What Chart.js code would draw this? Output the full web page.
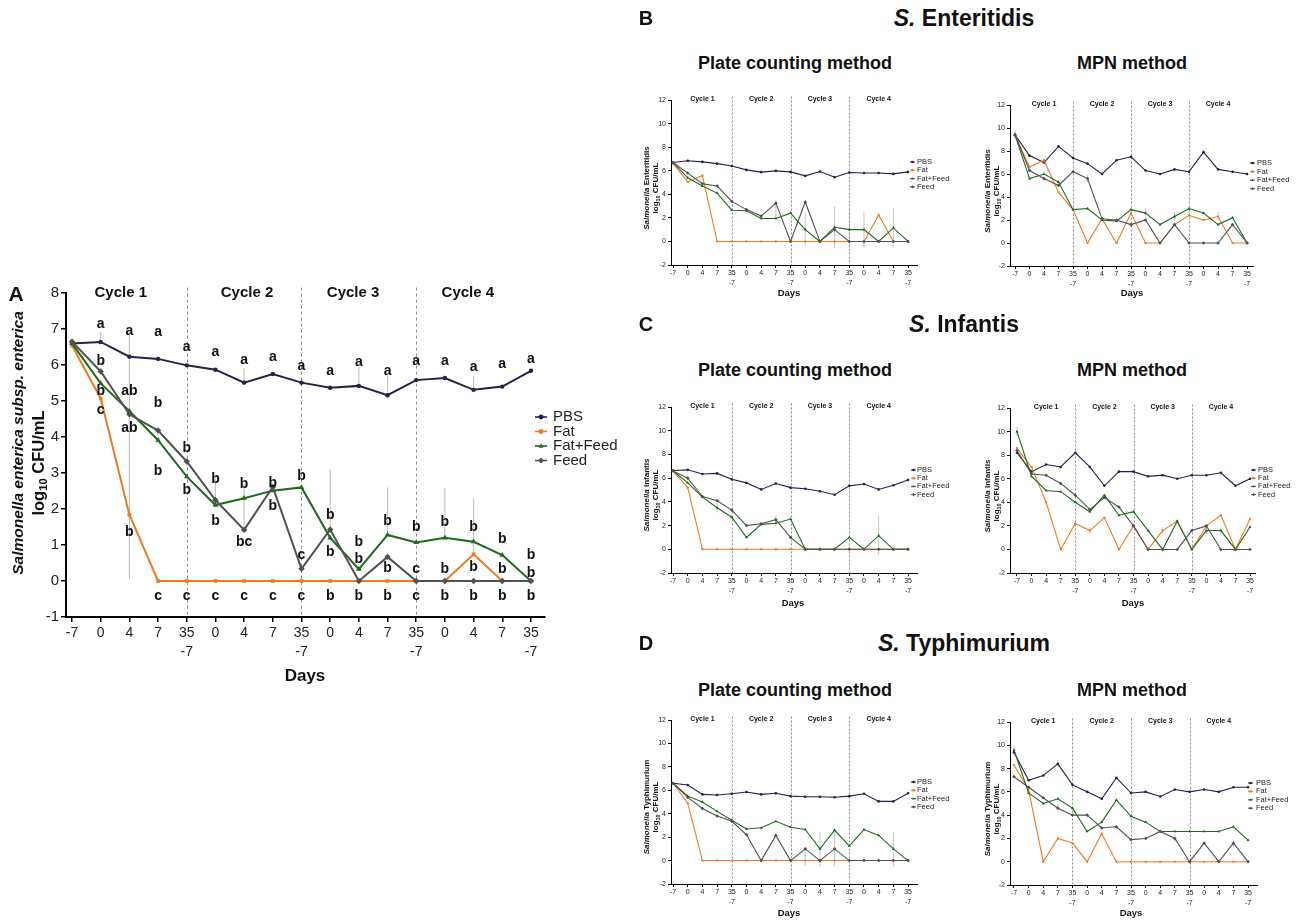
<!DOCTYPE html>
<html>
<head>
<meta charset="utf-8">
<script src="https://cdn.jsdelivr.net/npm/chart.js@4.4.1/dist/chart.umd.min.js"></script>
<style>
body { margin: 0; background: #fff; font-family: "Liberation Sans", Arial, sans-serif; }
#fig { position: relative; width: 1296px; height: 920px; overflow: hidden; }
.t { position: absolute; white-space: nowrap; color: #111; font-weight: bold; transform: translate(-50%, -50%); line-height: 1; }
.r { transform: translate(-50%, -50%) rotate(-90deg); }
sub { font-size: 0.68em; vertical-align: -0.3em; line-height: 0; }
canvas { position: absolute; }
</style>
</head>
<body>
<div id="fig"></div>
<script>
const dayLabels = ['-7', '0', '4', '7', ['35', '-7'], '0', '4', '7', ['35', '-7'], '0', '4', '7', ['35', '-7'], '0', '4', '7', ['35', '-7']];
const seriesNames = ['PBS', 'Fat', 'Fat+Feed', 'Feed'];
const seriesColors = ['#23224a', '#ef7a22', '#1c6b1f', '#515151'];
const pointShapes = ['circle', 'rect', 'triangle', 'rectRot'];
const cycleNames = ['Cycle 1', 'Cycle 2', 'Cycle 3', 'Cycle 4'];
const cycleBreaks = [4, 8, 12];

// Panel A - Salmonella enterica subsp. enterica
const aPBS = [6.6, 6.64, 6.23, 6.17, 5.99, 5.87, 5.51, 5.75, 5.51, 5.37, 5.42, 5.16, 5.58, 5.64, 5.31, 5.40, 5.84];
const aFat = [6.54, 5.07, 1.84, 0, 0, 0, 0, 0, 0, 0, 0, 0, 0, 0, 0.74, 0, 0];
const aFatFeed = [6.6, 5.49, 4.72, 3.91, 2.9, 2.11, 2.3, 2.51, 2.6, 1.2, 0.33, 1.28, 1.07, 1.2, 1.09, 0.72, 0];
const aFeed = [6.65, 5.82, 4.63, 4.18, 3.32, 2.25, 1.42, 2.61, 0.34, 1.43, 0, 0.67, 0, 0, 0, 0, 0];
const aErr = [[1, 6.64, 6.92], [2, 0.05, 6.9], [5, 2.25, 2.9], [6, 1.42, 2.7], [6, 5.51, 5.9], [9, 1.43, 3.1],
  [10, 5.42, 5.95], [11, 1.28, 2.6], [11, 5.16, 5.7], [13, 1.2, 2.58], [14, 0.74, 2.3], [14, 5.31, 5.7]];
const aLetters = [
  [1, 7.14, 'a'], [1, 6.12, 'b'], [1, 5.28, 'b'], [1, 4.74, 'c'],
  [2, 6.94, 'a'], [2, 5.28, 'ab'], [2, 4.24, 'ab'], [2, 1.37, 'b'],
  [3, 6.91, 'a'], [3, 4.93, 'b'], [3, 3.05, 'b'], [3, -0.42, 'c'],
  [4, 6.49, 'a'], [4, 3.7, 'b'], [4, 2.51, 'b'], [4, -0.42, 'c'],
  [5, 6.37, 'a'], [5, 2.84, 'b'], [5, 1.67, 'b'], [5, -0.42, 'c'],
  [6, 6.14, 'a'], [6, 2.69, 'b'], [6, 1.07, 'bc'], [6, -0.42, 'c'],
  [7, 6.23, 'a'], [7, 2.72, 'b'], [7, 2.07, 'b'], [7, -0.42, 'c'],
  [8, 5.98, 'a'], [8, 2.92, 'b'], [8, 0.73, 'c'], [8, -0.42, 'c'],
  [9, 5.82, 'a'], [9, 1.82, 'b'], [9, 0.79, 'b'], [9, -0.42, 'b'],
  [10, 6.07, 'a'], [10, 1.09, 'b'], [10, 0.62, 'b'], [10, -0.42, 'b'],
  [11, 5.82, 'a'], [11, 1.67, 'b'], [11, 0.36, 'b'], [11, -0.42, 'b'],
  [12, 6.1, 'a'], [12, 1.49, 'b'], [12, 0.33, 'c'], [12, -0.42, 'c'],
  [13, 6.1, 'a'], [13, 1.63, 'b'], [13, 0.33, 'b'], [13, -0.42, 'b'],
  [14, 5.93, 'a'], [14, 1.49, 'b'], [14, 0.39, 'b'], [14, -0.42, 'b'],
  [15, 6.02, 'a'], [15, 1.16, 'b'], [15, 0.33, 'b'], [15, -0.42, 'b'],
  [16, 6.16, 'a'], [16, 0.73, 'b'], [16, 0.23, 'b'], [16, -0.42, 'b']
];

// Panel B - S. Enteritidis
const bPlatePBS = [6.7, 6.84, 6.75, 6.6, 6.4, 6.07, 5.88, 5.99, 5.9, 5.56, 5.93, 5.45, 5.85, 5.8, 5.8, 5.73, 5.9];
const bPlateFat = [6.6, 5.05, 5.6, 0, 0, 0, 0, 0, 0, 0, 0, 0, 0, 0, 2.25, 0, 0];
const bPlateFatFeed = [6.7, 5.4, 4.7, 4.1, 2.65, 2.6, 1.95, 1.95, 2.4, 1.0, 0, 1.2, 1.0, 1.0, 0, 1.15, 0];
const bPlateFeed = [6.7, 5.8, 4.9, 4.7, 3.4, 2.7, 2.15, 3.25, 0, 3.35, 0, 1.0, 0, 0, 0, 0, 0];
const bPlateErr = [[7, 2.0, 3.5], [9, -0.4, 2.4], [11, -0.6, 3.0], [12, -0.5, 2.7], [13, -0.5, 2.5], [15, -0.5, 2.8]];
const bMpnPBS = [9.4, 7.6, 7.0, 8.4, 7.4, 6.9, 6.0, 7.2, 7.5, 6.3, 6.0, 6.4, 6.2, 7.9, 6.4, 6.2, 6.0];
const bMpnFat = [9.4, 6.6, 7.2, 4.4, 2.9, 0, 2.1, 0, 2.6, 0, 0, 1.6, 2.4, 2.0, 2.3, 0, 0];
const bMpnFatFeed = [9.4, 5.6, 6.0, 5.3, 2.9, 3.0, 2.0, 1.9, 2.9, 2.6, 1.6, 2.3, 3.0, 2.6, 1.6, 2.2, 0];
const bMpnFeed = [9.4, 6.3, 5.6, 5.0, 6.2, 5.6, 2.1, 2.0, 1.6, 2.0, 0, 1.6, 0, 0, 0, 1.6, 0];
const bMpnErr = [[0, 9.0, 9.8], [5, 5.3, 5.9], [9, 2.2, 3.0], [11, 1.9, 2.7], [14, 2.0, 2.7]];

// Panel C - S. Infantis
const cPlatePBS = [6.65, 6.7, 6.35, 6.4, 5.9, 5.6, 5.05, 5.55, 5.2, 5.1, 4.9, 4.6, 5.35, 5.5, 5.05, 5.4, 5.85];
const cPlateFat = [6.6, 5.2, 0, 0, 0, 0, 0, 0, 0, 0, 0, 0, 0, 0, 0, 0, 0];
const cPlateFatFeed = [6.6, 5.6, 4.4, 3.5, 2.7, 1.0, 2.1, 2.2, 2.55, 0, 0, 0, 1.0, 0, 1.15, 0, 0];
const cPlateFeed = [6.6, 6.0, 4.45, 4.1, 3.3, 2.0, 2.15, 2.5, 1.0, 0, 0, 0, 0, 0, 0, 0, 0];
const cPlateErr = [[3, 3.1, 3.9], [7, 1.9, 2.9], [14, -0.5, 2.8]];
const cMpnPBS = [8.2, 6.6, 7.2, 7.0, 8.2, 7.0, 5.4, 6.6, 6.6, 6.2, 6.3, 6.0, 6.3, 6.3, 6.5, 5.4, 6.0];
const cMpnFat = [8.6, 7.0, 4.0, 0, 2.2, 1.6, 2.7, 0, 2.0, 0, 1.6, 2.4, 0, 2.0, 2.9, 0, 2.6];
const cMpnFatFeed = [10.0, 6.2, 5.0, 4.9, 4.0, 3.2, 4.6, 2.9, 3.2, 1.6, 0, 2.4, 0, 1.6, 1.6, 0, 1.9];
const cMpnFeed = [8.4, 6.4, 6.3, 5.6, 4.6, 3.4, 4.4, 3.6, 2.0, 0, 0, 0, 1.6, 2.0, 0, 0, 0];
const cMpnErr = [[0, 9.6, 10.4], [5, 1.3, 1.9], [10, 1.3, 1.9], [13, 1.3, 1.9], [14, 1.3, 1.9]];

// Panel D - S. Typhimurium
const dPlatePBS = [6.6, 6.45, 5.65, 5.6, 5.7, 5.85, 5.65, 5.75, 5.5, 5.45, 5.45, 5.4, 5.5, 5.7, 5.05, 5.05, 5.75];
const dPlateFat = [6.6, 4.9, 0, 0, 0, 0, 0, 0, 0, 0, 0, 0, 0, 0, 0, 0, 0];
const dPlateFatFeed = [6.6, 5.5, 5.0, 4.2, 3.45, 2.7, 2.8, 3.35, 2.85, 2.65, 1.0, 2.6, 1.25, 2.65, 2.15, 1.0, 0];
const dPlateFeed = [6.6, 5.4, 4.45, 3.8, 3.35, 2.2, 0, 2.15, 0, 1.0, 0, 1.0, 0, 0, 0, 0, 0];
const dPlateErr = [[9, -0.4, 1.1], [10, -0.5, 2.4], [11, -0.5, 2.6], [15, -0.5, 2.4]];
const dMpnPBS = [9.4, 7.0, 7.4, 8.4, 6.6, 6.0, 5.4, 7.2, 5.9, 6.0, 5.6, 6.2, 6.0, 6.2, 6.0, 6.4, 6.4];
const dMpnFat = [8.3, 6.2, 0, 2.0, 1.6, 0, 2.4, 0, 0, 0, 0, 0, 0, 0, 0, 0, 0];
const dMpnFatFeed = [9.6, 5.9, 5.0, 5.4, 4.6, 2.6, 3.4, 5.3, 3.9, 3.4, 2.6, 2.6, 2.6, 2.6, 2.6, 3.0, 1.85];
const dMpnFeed = [7.3, 6.4, 5.5, 4.6, 4.0, 4.0, 2.9, 3.0, 1.9, 2.0, 2.6, 2.0, 0, 1.6, 0, 1.6, 0];
const dMpnErr = [[0, 9.1, 9.9], [3, 8.1, 8.7], [3, 4.3, 4.9], [11, 1.7, 2.3], [15, 1.3, 1.9]];

Chart.defaults.font.family = '"Liberation Sans", Arial, sans-serif';
const fig = document.getElementById('fig');

function addText(html, x, y, css, rotate) {
  const d = document.createElement('div');
  d.className = 't' + (rotate ? ' r' : '');
  d.style.cssText = 'left:' + x + 'px;top:' + y + 'px;' + (css || '');
  d.innerHTML = html;
  fig.appendChild(d);
}

function drawMarker(ctx, shape, x, y, r) {
  ctx.beginPath();
  if (shape === 'circle') {
    ctx.arc(x, y, r, 0, Math.PI * 2);
  } else if (shape === 'rect') {
    ctx.rect(x - r * 0.9, y - r * 0.9, r * 1.8, r * 1.8);
  } else if (shape === 'triangle') {
    ctx.moveTo(x, y - r * 1.1);
    ctx.lineTo(x + r, y + r * 0.7);
    ctx.lineTo(x - r, y + r * 0.7);
    ctx.closePath();
  } else {
    ctx.moveTo(x, y - r * 1.2);
    ctx.lineTo(x + r * 1.2, y);
    ctx.lineTo(x, y + r * 1.2);
    ctx.lineTo(x - r * 1.2, y);
    ctx.closePath();
  }
  ctx.fill();
}

// error bars, cycle separators, cycle names, letters and legend
const decoPlugin = {
  id: 'deco',
  beforeDatasetsDraw(chart, args, o) {
    const { ctx, chartArea } = chart;
    const x = chart.scales.x, y = chart.scales.y;
    ctx.save();
    ctx.strokeStyle = '#c6c6c6';
    ctx.lineWidth = o.errW;
    o.errors.forEach(([i, lo, hi]) => {
      const px = x.getPixelForValue(i);
      ctx.beginPath();
      ctx.moveTo(px, y.getPixelForValue(lo));
      ctx.lineTo(px, y.getPixelForValue(hi));
      ctx.stroke();
    });
    ctx.strokeStyle = '#8c8c8c';
    ctx.lineWidth = 1;
    ctx.setLineDash(o.dash);
    cycleBreaks.forEach(i => {
      const px = Math.round(x.getPixelForValue(i)) + 0.5;
      ctx.beginPath();
      ctx.moveTo(px, y.getPixelForValue(o.dashTop));
      ctx.lineTo(px, chartArea.bottom);
      ctx.stroke();
    });
    ctx.restore();
  },
  afterDatasetsDraw(chart, args, o) {
    const { ctx } = chart;
    const x = chart.scales.x, y = chart.scales.y;
    ctx.save();
    ctx.fillStyle = '#111';
    ctx.textAlign = 'center';
    ctx.textBaseline = 'middle';
    ctx.font = o.cycleFont;
    cycleNames.forEach((t, k) => ctx.fillText(t, x.getPixelForValue(o.cycleAt[k]), y.getPixelForValue(o.cycleY)));
    ctx.font = o.letterFont;
    o.letters.forEach(([i, v, t]) => ctx.fillText(t, x.getPixelForValue(i), y.getPixelForValue(v)));

    const L = o.legend;
    ctx.font = o.legendFont;
    ctx.textAlign = 'left';
    seriesNames.forEach((n, k) => {
      const yy = L.y + k * L.dy;
      ctx.strokeStyle = seriesColors[k];
      ctx.fillStyle = seriesColors[k];
      ctx.lineWidth = L.lw;
      ctx.beginPath();
      ctx.moveTo(L.x, yy);
      ctx.lineTo(L.x + L.len, yy);
      ctx.stroke();
      drawMarker(ctx, pointShapes[k], L.x + L.len / 2, yy, L.r);
      ctx.fillStyle = '#222';
      ctx.fillText(n, L.tx, yy);
    });
    ctx.restore();
  }
};

const BIG = {
  tickFont: 14, yTickFont: 15, tickLH: 1.4, lineW: 2, pointR: [2.2, 2.6, 3.2, 3.2], axisW: 2, tickLen: 5, tickW: 1.5,
  yMin: -1, yMax: 8, yStep: 1, dashTop: 8.15, cycleY: 8.0, cycleAt: [1.7, 6.1, 9.8, 13.8],
  cycleFont: 'bold 15px "Liberation Sans", Arial', letterFont: 'bold 14px "Liberation Sans", Arial',
  legendFont: '15px "Liberation Sans", Arial', dash: [3, 3], errW: 1.2, legLW: 1.6, legR: 2.4
};
const SMALL = {
  tickFont: 7, yTickFont: 7, tickLH: 1.3, lineW: 1.1, pointR: [1.3, 1.4, 1.8, 1.8], axisW: 1, tickLen: 3, tickW: 1,
  yMin: -2, yMax: 12, yStep: 2, dashTop: 12.3, cycleY: 12.1, cycleAt: [2, 6, 10, 14],
  cycleFont: 'bold 7px "Liberation Sans", Arial', letterFont: 'bold 7px "Liberation Sans", Arial',
  legendFont: '7.5px "Liberation Sans", Arial', dash: [2, 2], errW: 1, legLW: 1, legR: 1.3
};

function addChart(cfg, s) {
  const cv = document.createElement('canvas');
  cv.width = cfg.w;
  cv.height = cfg.h;
  cv.style.left = cfg.left + 'px';
  cv.style.top = cfg.top + 'px';
  cv.style.width = cfg.w + 'px';
  cv.style.height = cfg.h + 'px';
  fig.appendChild(cv);

  const a = cfg.area;
  const datasets = cfg.series.map((vals, k) => ({
    label: seriesNames[k],
    data: vals.map((v, i) => ({ x: i, y: v })),
    borderColor: seriesColors[k],
    backgroundColor: seriesColors[k],
    pointBackgroundColor: seriesColors[k],
    pointBorderWidth: 0,
    pointStyle: pointShapes[k],
    pointRadius: s.pointR[k],
    borderWidth: s.lineW,
    tension: 0,
    clip: false,
    order: [3, 2, 1, 0][k]
  }));
  const legend = cfg.legend;

  return new Chart(cv, {
    type: 'line',
    data: { datasets },
    plugins: [decoPlugin],
    options: {
      responsive: false,
      animation: false,
      devicePixelRatio: 1,
      layout: { padding: { left: 0, top: a.t - cfg.top, right: cfg.left + cfg.w - a.r, bottom: 0 } },
      scales: {
        x: {
          type: 'linear',
          min: cfg.xMin,
          max: cfg.xMax,
          afterBuildTicks: sc => { sc.ticks = dayLabels.map((_, i) => ({ value: i })); },
          afterFit: sc => { sc.height = cfg.top + cfg.h - a.b; },
          ticks: { autoSkip: false, maxRotation: 0, color: '#222', font: { size: s.tickFont, lineHeight: s.tickLH },
            padding: 1, callback: (v, i) => dayLabels[i] },
          grid: { drawOnChartArea: false, color: '#000', tickLength: s.tickLen, lineWidth: s.tickW },
          border: { color: '#000', width: s.axisW }
        },
        y: {
          min: s.yMin,
          max: s.yMax,
          afterFit: sc => { sc.width = a.l - cfg.left; },
          ticks: { stepSize: s.yStep, color: '#222', font: { size: s.yTickFont }, padding: 2 },
          grid: { drawOnChartArea: false, color: '#000', tickLength: s.tickLen, lineWidth: s.tickW },
          border: { color: '#000', width: s.axisW }
        }
      },
      plugins: {
        legend: { display: false },
        tooltip: { enabled: false },
        deco: {
          errors: cfg.errors, letters: cfg.letters || [], errW: s.errW, dash: s.dash, dashTop: s.dashTop,
          cycleY: s.cycleY, cycleAt: s.cycleAt, cycleFont: s.cycleFont, letterFont: s.letterFont,
          legendFont: s.legendFont,
          legend: { x: legend.x - cfg.left, tx: legend.tx - cfg.left, y: legend.y - cfg.top, dy: legend.dy,
            len: legend.len, lw: s.legLW, r: s.legR }
        }
      }
    }
  });
}

// ---- Panel A ----
addChart({
  left: 0, top: 250, w: 640, h: 450,
  area: { l: 66, r: 545, t: 293, b: 617 },
  xMin: -0.21, xMax: 16.49,
  series: [aPBS, aFat, aFatFeed, aFeed],
  errors: aErr, letters: aLetters,
  legend: { x: 535, tx: 553, y: 417, dy: 14.5, len: 12 }
}, BIG);
addText('A', 16, 293, 'font-size:21px');
addText('<i>Salmonella enterica subsp. enterica</i>', 18, 443, 'font-size:15.5px', true);
addText('log<sub>10</sub> CFU/mL', 38, 463, 'font-size:16.5px', true);
addText('Days', 305, 675, 'font-size:17px');

// ---- Panels B, C, D ----
const smallCharts = [
  { name: 'Enteritidis', left: 640, top: 90, series: [bPlatePBS, bPlateFat, bPlateFatFeed, bPlateFeed], errors: bPlateErr,
    area: { l: 671, r: 917, t: 100, b: 265 }, xMin: -0.14, xMax: 16.61, titleX: [647, 656], days: [789, 293],
    legend: { x: 910, tx: 917, y: 162, dy: 8.3, len: 5 } },
  { name: 'Enteritidis', left: 970, top: 90, series: [bMpnPBS, bMpnFat, bMpnFatFeed, bMpnFeed], errors: bMpnErr,
    area: { l: 1010, r: 1253, t: 105, b: 266 }, xMin: -0.345, xMax: 16.41, titleX: [988, 997], days: [1132, 293],
    legend: { x: 1250, tx: 1257, y: 163, dy: 8.6, len: 5 } },
  { name: 'Infantis', left: 640, top: 390, series: [cPlatePBS, cPlateFat, cPlateFatFeed, cPlateFeed], errors: cPlateErr,
    area: { l: 671, r: 917, t: 407, b: 573 }, xMin: -0.14, xMax: 16.61, titleX: [647, 656], days: [793, 603],
    legend: { x: 911, tx: 917, y: 470, dy: 8.2, len: 5 } },
  { name: 'Infantis', left: 970, top: 390, series: [cMpnPBS, cMpnFat, cMpnFatFeed, cMpnFeed], errors: cMpnErr,
    area: { l: 1010, r: 1255, t: 408, b: 573 }, xMin: -0.48, xMax: 16.34, titleX: [988, 997], days: [1133, 603],
    legend: { x: 1251, tx: 1258, y: 470, dy: 8.2, len: 5 } },
  { name: 'Typhimurium', left: 640, top: 710, series: [dPlatePBS, dPlateFat, dPlateFatFeed, dPlateFeed], errors: dPlateErr,
    area: { l: 671, r: 917, t: 720, b: 884 }, xMin: -0.14, xMax: 16.61, titleX: [647, 656], days: [789, 913],
    legend: { x: 911, tx: 917, y: 782, dy: 8.3, len: 5 } },
  { name: 'Typhimurium', left: 970, top: 710, series: [dMpnPBS, dMpnFat, dMpnFatFeed, dMpnFeed], errors: dMpnErr,
    area: { l: 1010, r: 1257, t: 722, b: 885 }, xMin: -0.27, xMax: 16.61, titleX: [988, 997], days: [1131, 913],
    legend: { x: 1248, tx: 1256, y: 783, dy: 8.4, len: 5 } }
];

smallCharts.forEach(c => {
  c.w = c.left === 640 ? 330 : 326;
  c.h = c.area.b - c.top + 30;
  addChart(c, SMALL);
  const cy = (c.area.t + c.area.b) / 2 + 5;
  addText('<i>Salmonella</i> ' + c.name, c.titleX[0], cy, 'font-size:8px', true);
  addText('log<sub>10</sub> CFU/mL', c.titleX[1], cy, 'font-size:8px', true);
  addText('Days', c.days[0], c.days[1], 'font-size:9.5px');
});

// ---- Panel headings ----
const headings = [['B', 'Enteritidis', 18, 63], ['C', 'Infantis', 324, 370], ['D', 'Typhimurium', 643, 690]];
headings.forEach(([letter, name, yTitle, ySub]) => {
  addText(letter, 646, yTitle, 'font-size:20px');
  addText('<i>S.</i> ' + name, 964, yTitle, 'font-size:23px');
  addText('Plate counting method', 795, ySub, 'font-size:18px');
  addText('MPN method', 1132, ySub, 'font-size:18px');
});
</script>
</body>
</html>
